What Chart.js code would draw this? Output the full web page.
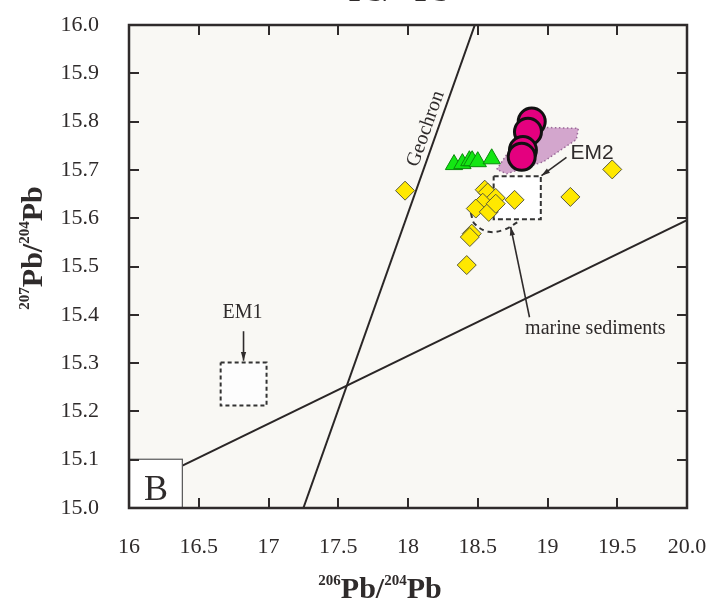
<!DOCTYPE html>
<html>
<head>
<meta charset="utf-8">
<title>207Pb/204Pb vs 206Pb/204Pb</title>
<script src="https://cdn.jsdelivr.net/npm/chart.js"></script>
<style>
  html, body { margin: 0; padding: 0; background: #fff; }
  #wrap { width: 721px; height: 604px; }
</style>
</head>
<body>
<div id="wrap"><canvas id="chart" width="721" height="604"></canvas></div>
<script>
// axis ticks
const xTicks = [16, 16.5, 17, 17.5, 18, 18.5, 19, 19.5, 20];
const xTickLabels = ['16', '16.5', '17', '17.5', '18', '18.5', '19', '19.5', '20.0'];
const yTicks = [15.0, 15.1, 15.2, 15.3, 15.4, 15.5, 15.6, 15.7, 15.8, 15.9, 16.0];
const yTickLabels = ['15.0', '15.1', '15.2', '15.3', '15.4', '15.5', '15.6', '15.7', '15.8', '15.9', '16.0'];

// magenta circles (this study)
const circleX = [18.887, 18.86, 18.824, 18.815];
const circleY = [15.800, 15.779, 15.741, 15.727];

// green triangles
const triX = [18.33, 18.39, 18.44, 18.46, 18.50, 18.60];
const triY = [15.711, 15.713, 15.719, 15.719, 15.717, 15.723];

// yellow diamonds
const diaX = [17.979, 19.464, 19.164, 18.764, 18.55, 18.571, 18.629, 18.536, 18.486, 18.579, 18.629, 18.457, 18.443, 18.421];
const diaY = [15.657, 15.701, 15.644, 15.638, 15.659, 15.653, 15.642, 15.632, 15.620, 15.613, 15.630, 15.568, 15.561, 15.503];

// purple field
const fieldX = [18.636, 18.757, 18.971, 19.221, 19.207, 18.971, 18.707, 18.636];
const fieldY = [15.701, 15.753, 15.788, 15.786, 15.763, 15.717, 15.692, 15.701];

// end-member boxes
const em1X = [16.657, 16.986, 16.986, 16.657, 16.657];
const em1Y = [15.301, 15.301, 15.212, 15.212, 15.301];
const em2X = [18.614, 18.952, 18.952, 18.614, 18.614];
const em2Y = [15.687, 15.687, 15.598, 15.598, 15.687];

// marine sediments (dashed arc)
const marineX = [18.45, 18.479, 18.579, 18.686, 18.793];
const marineY = [15.611, 15.588, 15.572, 15.576, 15.593];

// reference lines
const geochronX = [17.25, 18.479];
const geochronY = [15.0, 16.0];
const nhrlX = [16.0, 20.0];
const nhrlY = [15.034, 15.596];

const zip = (xs, ys) => xs.map((x, i) => ({ x: x, y: ys[i] }));

const SERIF = '"Liberation Serif", "Times New Roman", serif';
const INK = '#2f2b2b';

function drawSup(ctx, parts, x, y, bigSize, smallSize, align) {
    let total = 0;
    const widths = parts.map(p => {
        ctx.font = 'bold ' + (p[1] ? smallSize : bigSize) + 'px ' + SERIF;
        const w = ctx.measureText(p[0]).width;
        total += w;
        return w;
    });
    let cx = align === 'center' ? x - total / 2 : x;
    ctx.textBaseline = 'alphabetic';
    ctx.textAlign = 'left';
    parts.forEach((p, i) => {
        ctx.font = 'bold ' + (p[1] ? smallSize : bigSize) + 'px ' + SERIF;
        ctx.fillText(p[0], cx, p[1] ? y - bigSize * 0.42 : y);
        cx += widths[i];
    });
}

function arrow(ctx, x1, y1, x2, y2) {
    const a = Math.atan2(y2 - y1, x2 - x1);
    ctx.beginPath();
    ctx.moveTo(x1, y1);
    ctx.lineTo(x2, y2);
    ctx.stroke();
    ctx.beginPath();
    ctx.moveTo(x2, y2);
    ctx.lineTo(x2 - 9 * Math.cos(a - 0.3), y2 - 9 * Math.sin(a - 0.3));
    ctx.lineTo(x2 - 9 * Math.cos(a + 0.3), y2 - 9 * Math.sin(a + 0.3));
    ctx.closePath();
    ctx.fill();
}

const decorPlugin = {
    id: 'decor',
    beforeDraw(chart) {
        const { ctx, chartArea: a } = chart;
        ctx.save();
        ctx.fillStyle = '#f9f8f4';
        ctx.fillRect(a.left, a.top, a.right - a.left, a.bottom - a.top);
        ctx.restore();
    },
    afterDraw(chart) {
        const { ctx, chartArea: a } = chart;
        const xs = chart.scales.x, ys = chart.scales.y;
        const px = v => xs.getPixelForValue(v), py = v => ys.getPixelForValue(v);
        ctx.save();

        // B panel box
        ctx.fillStyle = '#fff';
        ctx.strokeStyle = '#555';
        ctx.lineWidth = 1.2;
        const bx1 = px(16), bx2 = px(16.386), by1 = py(15.102), by2 = py(15.0);
        ctx.fillRect(bx1, by1, bx2 - bx1, by2 - by1);
        ctx.strokeRect(bx1 + 0.5, by1 + 0.5, bx2 - bx1 - 1, by2 - by1 - 1);
        ctx.fillStyle = INK;
        ctx.font = '36px ' + SERIF;
        ctx.textAlign = 'center';
        ctx.textBaseline = 'alphabetic';
        ctx.fillText('B', (bx1 + bx2) / 2, by2 - 8);

        // inward tick marks on all four sides
        ctx.strokeStyle = INK;
        ctx.lineWidth = 2;
        xTicks.slice(1, -1).forEach(v => {
            const x = Math.round(px(v));
            ctx.beginPath();
            ctx.moveTo(x, a.bottom); ctx.lineTo(x, a.bottom - 10);
            ctx.moveTo(x, a.top); ctx.lineTo(x, a.top + 10);
            ctx.stroke();
        });
        yTicks.slice(1, -1).forEach(v => {
            const y = Math.round(py(v));
            ctx.beginPath();
            ctx.moveTo(a.left, y); ctx.lineTo(a.left + 10, y);
            ctx.moveTo(a.right, y); ctx.lineTo(a.right - 10, y);
            ctx.stroke();
        });

        // frame
        ctx.lineWidth = 2.5;
        ctx.strokeRect(a.left, a.top, a.right - a.left, a.bottom - a.top);

        // labels and arrows
        ctx.fillStyle = INK;
        ctx.strokeStyle = INK;
        ctx.lineWidth = 1.6;
        ctx.font = '20px ' + SERIF;
        ctx.textAlign = 'center';
        ctx.textBaseline = 'middle';
        ctx.fillText('EM1', px(16.814), py(15.405));
        arrow(ctx, px(16.821), py(15.366), px(16.821), py(15.305));

        ctx.font = '21px "Liberation Sans", Arial, sans-serif';
        ctx.textAlign = 'left';
        ctx.fillText('EM2', px(19.164), py(15.735));
        arrow(ctx, px(19.136), py(15.726), px(18.957), py(15.688));

        ctx.font = '20px ' + SERIF;
        ctx.textAlign = 'center';
        ctx.fillText('marine sediments', px(19.343), py(15.372));
        arrow(ctx, px(18.871), py(15.395), px(18.736), py(15.582));

        // Geochron label along the line
        ctx.save();
        ctx.translate(px(18.128), py(15.785));
        ctx.rotate(Math.atan2(py(16.0) - py(15.0), px(18.479) - px(17.25)));
        ctx.font = '20px ' + SERIF;
        ctx.fillText('Geochron', 0, 0);
        ctx.restore();

        // axis titles
        drawSup(ctx, [['206', true], ['Pb', false], ['/', false], ['204', true], ['Pb', false]],
            380, 598, 30, 15, 'center');
        ctx.save();
        ctx.translate(42, 248);
        ctx.rotate(-Math.PI / 2);
        drawSup(ctx, [['207', true], ['Pb', false], ['/', false], ['204', true], ['Pb', false]],
            0, 0, 30, 15, 'center');
        ctx.restore();
        // title, cut off at the top edge
        drawSup(ctx, [['207', true], ['Pb', false], ['/', false], ['204', true], ['Pb', false]],
            388, 1, 30, 15, 'center');

        ctx.restore();
    }
};

new Chart(document.getElementById('chart'), {
    type: 'scatter',
    data: {
        datasets: [
            {
                label: 'Circles',
                data: zip(circleX, circleY),
                pointStyle: 'circle',
                pointRadius: 13.5,
                backgroundColor: '#e4007f',
                borderColor: '#111',
                borderWidth: 3
            },
            {
                label: 'Triangles',
                data: zip(triX, triY),
                pointStyle: 'triangle',
                pointRadius: 10,
                backgroundColor: '#13e613',
                borderColor: '#0a8a0a',
                borderWidth: 1
            },
            {
                label: 'Diamonds',
                data: zip(diaX, diaY),
                pointStyle: 'rectRot',
                pointRadius: 9.5,
                backgroundColor: '#ffe800',
                borderColor: '#5a5a3a',
                borderWidth: 1
            },
            {
                label: 'Field',
                data: zip(fieldX, fieldY),
                showLine: true,
                pointRadius: 0,
                fill: 'shape',
                backgroundColor: '#d3a6cd',
                borderColor: '#9a6a98',
                borderWidth: 1.5,
                borderDash: [1.5, 2.5]
            },
            {
                label: 'EM1',
                data: zip(em1X, em1Y),
                showLine: true,
                pointRadius: 0,
                fill: 'shape',
                backgroundColor: '#fdfdfd',
                borderColor: '#333',
                borderWidth: 2,
                borderDash: [4, 3]
            },
            {
                label: 'EM2',
                data: zip(em2X, em2Y),
                showLine: true,
                pointRadius: 0,
                fill: 'shape',
                backgroundColor: '#ffffff',
                borderColor: '#333',
                borderWidth: 2,
                borderDash: [5, 3]
            },
            {
                label: 'Marine sediments',
                data: zip(marineX, marineY),
                showLine: true,
                pointRadius: 0,
                tension: 0.4,
                borderColor: '#333',
                borderWidth: 2,
                borderDash: [5, 4]
            },
            {
                label: 'Geochron',
                data: zip(geochronX, geochronY),
                showLine: true,
                pointRadius: 0,
                borderColor: '#2a2626',
                borderWidth: 2
            },
            {
                label: 'NHRL',
                data: zip(nhrlX, nhrlY),
                showLine: true,
                pointRadius: 0,
                borderColor: '#2a2626',
                borderWidth: 2
            }
        ]
    },
    options: {
        responsive: false,
        animation: false,
        events: [],
        layout: { padding: { top: 25, right: 34, left: 0, bottom: 0 } },
        plugins: {
            legend: { display: false },
            tooltip: { enabled: false }
        },
        scales: {
            x: {
                type: 'linear',
                min: 16,
                max: 20,
                grid: { display: false, drawTicks: false },
                border: { display: false },
                afterBuildTicks: s => { s.ticks = xTicks.map(v => ({ value: v })); },
                afterFit: s => { s.height = 96; s.paddingLeft = 0; s.paddingRight = 0; },
                ticks: {
                    padding: 26,
                    maxRotation: 0,
                    autoSkip: false,
                    color: INK,
                    font: { family: SERIF, size: 22 },
                    callback: (v, i) => xTickLabels[i]
                }
            },
            y: {
                type: 'linear',
                min: 15.0,
                max: 16.0,
                grid: { display: false, drawTicks: false },
                border: { display: false },
                afterBuildTicks: s => { s.ticks = yTicks.map(v => ({ value: v })); },
                afterFit: s => { s.width = 129; s.paddingTop = 0; s.paddingBottom = 0; },
                ticks: {
                    padding: 30,
                    autoSkip: false,
                    color: INK,
                    font: { family: SERIF, size: 22 },
                    callback: (v, i) => yTickLabels[i]
                }
            }
        }
    },
    plugins: [decorPlugin]
});
</script>
</body>
</html>
